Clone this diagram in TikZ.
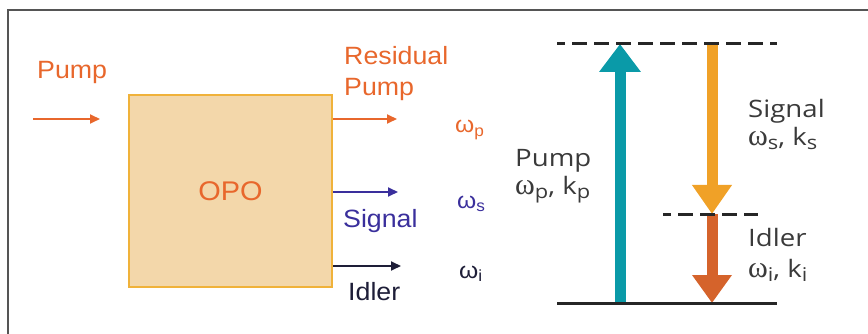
\documentclass[tikz,border=0pt]{standalone}
\usepackage{fontspec}
\setmainfont[FakeStretch=1.07]{Liberation Sans}
\newfontfamily\levelfont[FakeStretch=1.15]{Open Sans}
\newfontfamily\omegafont{Liberation Serif}
\usepackage{xcolor}
\usepackage{tikz}
\usetikzlibrary{arrows.meta,positioning}

\definecolor{pumporange}{HTML}{E8672C}
\definecolor{boxfill}{HTML}{F3D7AA}
\definecolor{boxedge}{HTML}{F0B23A}
\definecolor{signalblue}{HTML}{3A2F9C}
\definecolor{idlernavy}{HTML}{1E1E38}
\definecolor{pumpteal}{HTML}{0A9AA8}
\definecolor{signalamber}{HTML}{F0A127}
\definecolor{idlerrust}{HTML}{D5632B}
\definecolor{leveltext}{HTML}{3A3A3A}
\definecolor{framegray}{HTML}{555555}

\newcommand{\lvom}{{\omegafont\fontsize{30}{28}\selectfont ω}}
\newcommand{\lvsub}[1]{\raisebox{-4pt}{\fontsize{19}{20}\selectfont #1}}

\begin{document}
\begin{tikzpicture}[
  x=1pt, y=-1pt,
  lab/.style={inner sep=0pt, font=\fontsize{25}{31}\selectfont},
  omlab/.style={inner sep=0pt, anchor=base west, font=\fontsize{23}{26}\selectfont},
  lvlab/.style={inner sep=0pt, align=left, anchor=north west, text=leveltext, font=\levelfont\fontsize{24}{28}\selectfont},
  opobox/.style={draw=boxedge, fill=boxfill, line width=2pt, minimum width=203pt, minimum height=192pt, inner sep=0pt, text=pumporange, font=\fontsize{27}{30}\selectfont},
  beam/.style={-{Triangle[length=10pt, width=9pt]}, line width=1.8pt},
  fat/.style={line width=11pt},
  level/.style={line width=3pt, black!85},
  virt/.style={level, dash pattern=on 15pt off 7pt, dash phase=7pt}
]
\useasboundingbox (0,0) rectangle (868,334);
\draw[framegray, line width=1.5pt] (8,334) -- (8,10) -- (868,10);

\node[opobox] (opo) at (230.5,191) {OPO};
\node[lab, text=pumporange, anchor=base west] (pumptxt) at (37,79) {Pump};
\coordinate (pumpin) at (33,119);
\coordinate (pumpout) at (100,119);
\draw[beam, pumporange] (pumpin) -- (pumpout);

\coordinate (resend) at (397,119);
\coordinate (sigend) at (398,192);
\coordinate (idlend) at (401,266);
\draw[beam, pumporange] (opo.east |- resend) -- (resend);
\draw[beam, signalblue] (opo.east |- sigend) -- (sigend);
\draw[beam, idlernavy] (opo.east |- idlend) -- (idlend);

\node[lab, text=pumporange, align=left, anchor=north west] (restxt) at (344,46) {Residual\\Pump};
\node[lab, text=signalblue, anchor=base west] (sigtxt) at (343,227) {Signal};
\node[lab, text=idlernavy, anchor=base west] (idltxt) at (348,300) {Idler};

\node[omlab, text=pumporange] (wp) at (455,133) {ω\textsubscript{p}};
\node[omlab, text=signalblue] (ws) at (457,208) {ω\textsubscript{s}};
\node[omlab, text=idlernavy] (wi) at (459,278) {ω\textsubscript{i}};

\coordinate (ltop) at (557,44);
\coordinate (rtop) at (777,44);
\coordinate (lmid) at (663,214);
\coordinate (rmid) at (758,214);
\coordinate (lgnd) at (557,303);
\coordinate (rgnd) at (777,303);
\coordinate (pbot) at (620,303);
\coordinate (ptop) at (620,44);
\coordinate (stop) at (712,44);
\coordinate (smid) at (712,214);
\coordinate (ibot) at (712,303);

\draw[fat, pumpteal, -{Triangle[length=28pt, width=40pt]}] (pbot) -- (ptop);
\draw[fat, signalamber, -{Triangle[length=29pt, width=38pt]}] (stop) -- (smid);
\draw[fat, idlerrust, -{Triangle[length=28pt, width=38pt]}] (smid) -- (ibot);
\draw[virt] (ltop) -- (rtop);
\draw[virt] (lmid) -- (rmid);
\draw[level] (lgnd) -- (rgnd);

\node[lvlab] (pumplv) at (515,149) {Pump\\\lvom\lvsub{p}, k\lvsub{p}};
\node[lvlab] (siglv) at (748,99) {Signal\\\lvom\lvsub{s}, k\lvsub{s}};
\node[lvlab] (idllv) at (748,228) {Idler\\[3pt]\lvom\lvsub{i}, k\lvsub{i}};
\end{tikzpicture}
\end{document}
